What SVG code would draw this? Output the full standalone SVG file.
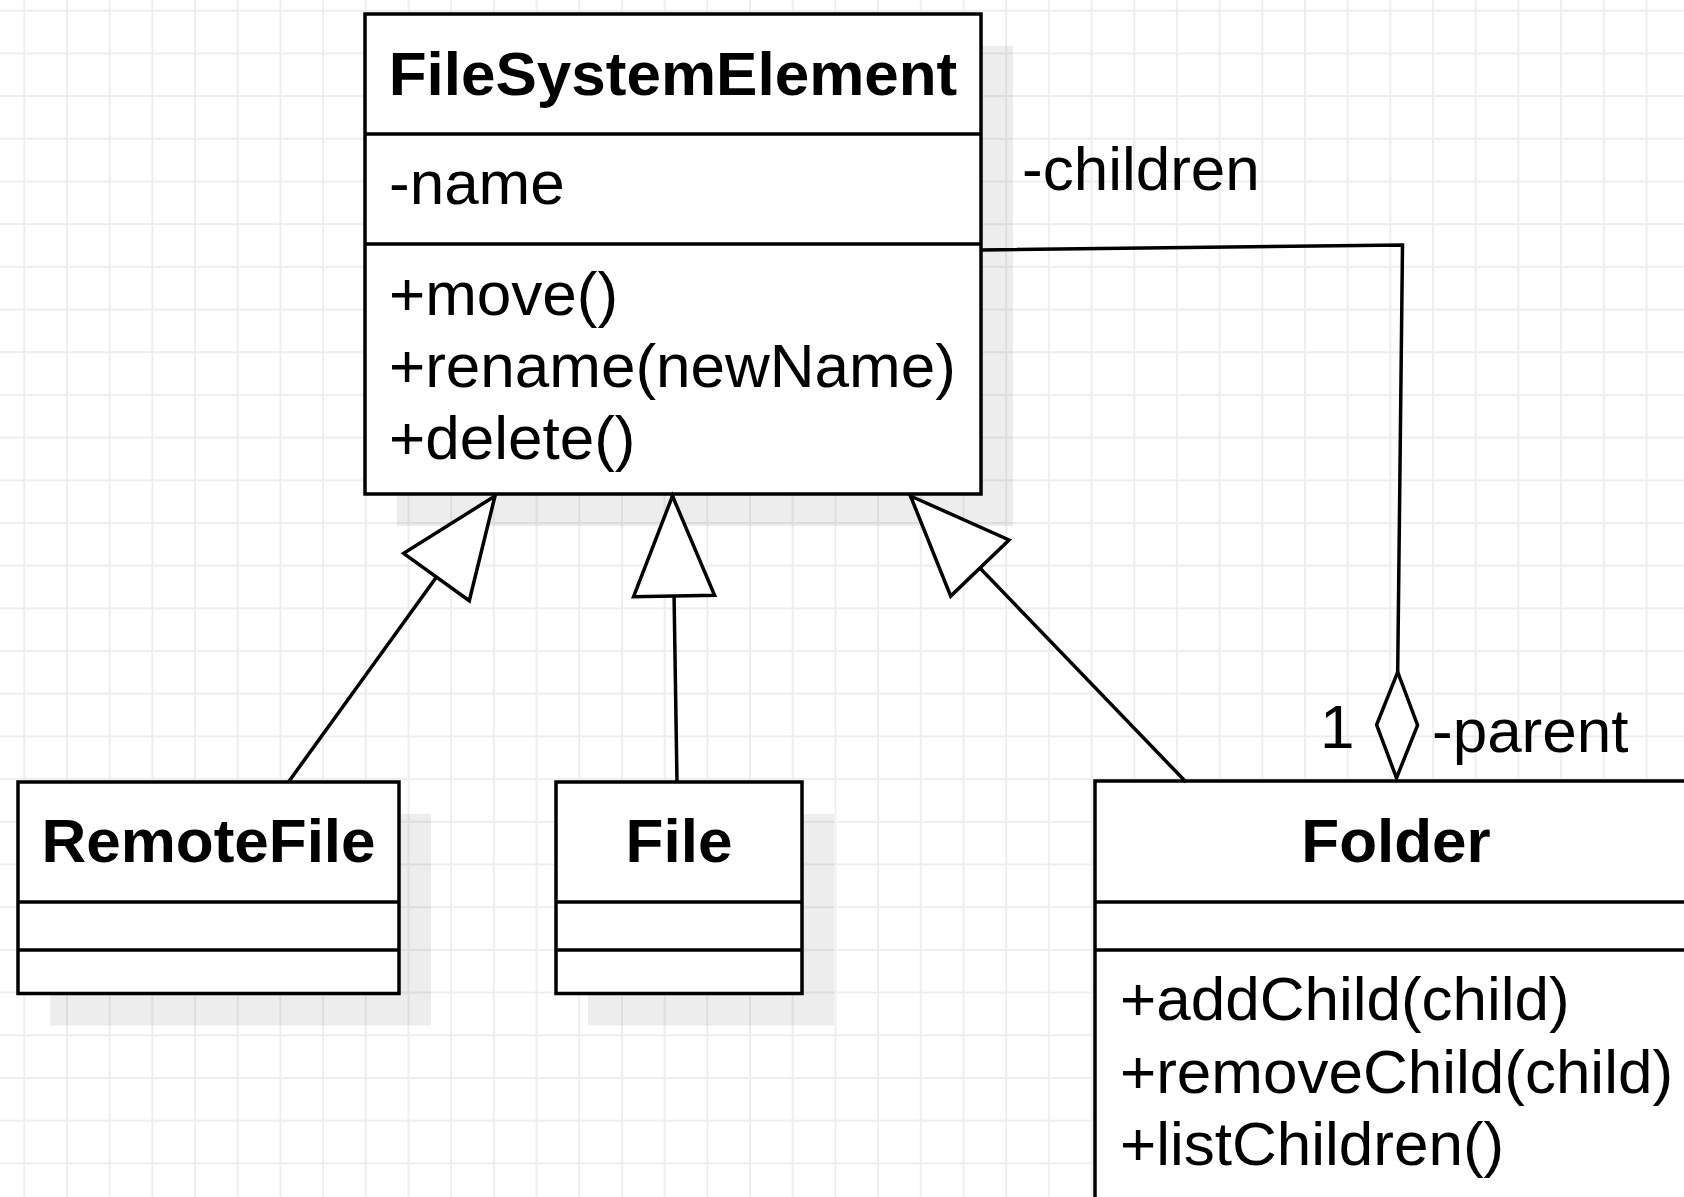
<svg xmlns="http://www.w3.org/2000/svg" width="1684" height="1197" viewBox="0 0 1684 1197">
<style>
text{font-family:"Liberation Sans",Arial,sans-serif;font-size:62px;fill:#000}
.title{font-weight:bold;text-anchor:middle}
.box{fill:#fff;stroke:#000;stroke-width:3.5}
.shadow{fill:#000;fill-opacity:0.07}
.div{stroke:#000;stroke-width:3.5}
.edge{fill:none;stroke:#000;stroke-width:3.5}
</style>
<defs>
<pattern id="grid" x="23.3" y="9.7" width="42.69" height="42.69" patternUnits="userSpaceOnUse">
<path d="M1 0 V42.69 M0 1 H42.69" stroke="#eeeeee" stroke-width="2" fill="none"/>
</pattern>
<marker id="gen" markerUnits="userSpaceOnUse" viewBox="-106 -46 112 92" markerWidth="112" markerHeight="92" refX="0" refY="0" orient="auto">
<path d="M0 0 L-100 -40.5 L-100 40.5 Z" fill="#fff" stroke="#000" stroke-width="3.5"/>
</marker>
<marker id="agg" markerUnits="userSpaceOnUse" viewBox="-6 -26 118 52" markerWidth="118" markerHeight="52" refX="0" refY="0" orient="auto">
<path d="M0 0 L53 -20.5 L106 0 L53 20.5 Z" fill="#fff" stroke="#000" stroke-width="3.5"/>
</marker>
</defs>
<rect width="1684" height="1197" fill="#fff"/>
<rect width="1684" height="1197" fill="url(#grid)"/>

<g id="FileSystemElement">
<rect class="shadow" x="397" y="46" width="616" height="480"/>
<rect class="box" x="365" y="14" width="616" height="480"/>
<line class="div" x1="365" y1="134" x2="981" y2="134"/>
<line class="div" x1="365" y1="244" x2="981" y2="244"/>
<text class="title" x="673" y="95">FileSystemElement</text>
<text x="389" y="204">-name</text>
<text x="389" y="315">+move()</text>
<text x="389" y="387">+rename(newName)</text>
<text x="389" y="459">+delete()</text>
</g>

<g id="RemoteFile">
<rect class="shadow" x="50" y="814" width="381" height="211.5"/>
<rect class="box" x="18" y="782" width="381" height="211.5"/>
<line class="div" x1="18" y1="902" x2="399" y2="902"/>
<line class="div" x1="18" y1="950" x2="399" y2="950"/>
<text class="title" x="208.5" y="862">RemoteFile</text>
</g>

<g id="File">
<rect class="shadow" x="588" y="814" width="246" height="211.5"/>
<rect class="box" x="556" y="782" width="246" height="211.5"/>
<line class="div" x1="556" y1="902" x2="802" y2="902"/>
<line class="div" x1="556" y1="950" x2="802" y2="950"/>
<text class="title" x="679" y="862">File</text>
</g>

<g id="Folder">
<rect class="shadow" x="1127" y="813" width="602" height="450"/>
<rect class="box" x="1095" y="781" width="602" height="450"/>
<line class="div" x1="1095" y1="902" x2="1697" y2="902"/>
<line class="div" x1="1095" y1="950" x2="1697" y2="950"/>
<text class="title" x="1396" y="862">Folder</text>
<text x="1120" y="1020">+addChild(child)</text>
<text x="1120" y="1092.5">+removeChild(child)</text>
<text x="1120" y="1165">+listChildren()</text>
</g>

<g id="connectors">
<path class="edge" d="M288.5 782 L495 496" marker-end="url(#gen)"/>
<path class="edge" d="M677 782 L672.5 496" marker-end="url(#gen)"/>
<path class="edge" d="M1186 782 L910.5 496" marker-end="url(#gen)"/>
<path class="edge" d="M1396.5 778 L1402.5 245 L981 250" marker-start="url(#agg)"/>
<text x="1022" y="190">-children</text>
<text x="1320" y="748">1</text>
<text x="1432" y="752">-parent</text>
</g>
</svg>
